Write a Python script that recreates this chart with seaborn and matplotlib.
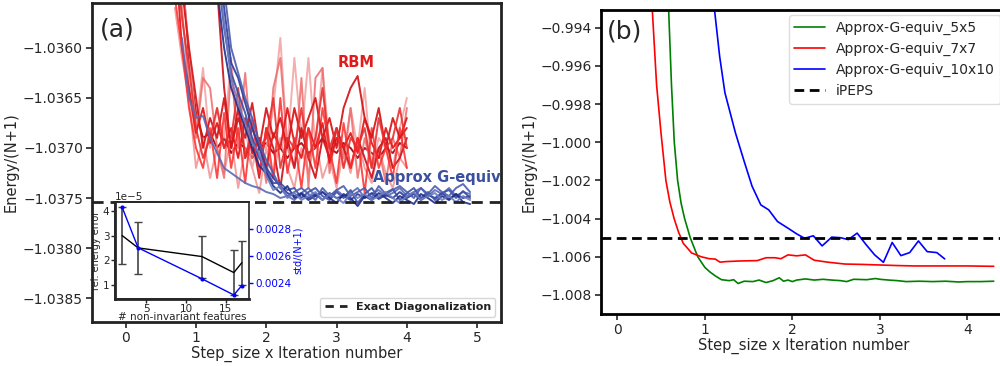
import numpy as np
import pandas as pd
import matplotlib
matplotlib.use("Agg")
import matplotlib.pyplot as plt
import seaborn as sns
from matplotlib.lines import Line2D

# ---------------- data: panel (a) ----------------
step_rbm = np.round(np.arange(0.7, 4.001, 0.1), 2)          # 34 points
step_geq = np.round(np.arange(1.3, 4.901, 0.1), 2)          # 37 points
step_geq_early = np.round(np.arange(0.8, 4.901, 0.1), 2)    # 42 points

rbm_1 = [-1.03500, -1.03600, -1.03640,
         -1.03685, -1.03660, -1.03695, -1.03675, -1.03700, -1.03680, -1.03710, -1.03670, -1.03705, -1.03690,
         -1.03720, -1.03685, -1.03700, -1.03660, -1.03695, -1.03710, -1.03680, -1.03700, -1.03675, -1.03715,
         -1.03690, -1.03700, -1.03685, -1.03705, -1.03670, -1.03695, -1.03710, -1.03680, -1.03700, -1.03690,
         -1.03670]
rbm_2 = [-1.03480, -1.03560, -1.03640,
         -1.03690, -1.03630, -1.03640, -1.03700, -1.03730, -1.03620, -1.03700, -1.03625, -1.03710, -1.03690,
         -1.03735, -1.03640, -1.03610, -1.03700, -1.03720, -1.03630, -1.03740, -1.03630, -1.03620, -1.03725,
         -1.03680, -1.03710, -1.03660, -1.03730, -1.03690, -1.03720, -1.03700, -1.03735, -1.03690, -1.03710,
         -1.03660]
rbm_3 = [-1.03400, -1.03520, -1.03610,
         -1.03665, -1.03690, -1.03685, -1.03700, -1.03690, -1.03705, -1.03695, -1.03700, -1.03710, -1.03700,
         -1.03695, -1.03705, -1.03700, -1.03710, -1.03700, -1.03695, -1.03705, -1.03700, -1.03690, -1.03700,
         -1.03705, -1.03695, -1.03700, -1.03710, -1.03700, -1.03705, -1.03710, -1.03700, -1.03705, -1.03695,
         -1.03700]
rbm_4 = [-1.03550, -1.03600, -1.03660,
         -1.03700, -1.03720, -1.03680, -1.03730, -1.03665, -1.03720, -1.03680, -1.03735, -1.03670, -1.03725,
         -1.03680, -1.03730, -1.03650, -1.03725, -1.03690, -1.03740, -1.03680, -1.03720, -1.03660, -1.03700,
         -1.03735, -1.03675, -1.03720, -1.03690, -1.03745, -1.03680, -1.03720, -1.03700, -1.03730, -1.03680,
         -1.03720]
rbm_5 = [-1.03450, -1.03540, -1.03600,
         -1.03650, -1.03700, -1.03670, -1.03690, -1.03650, -1.03700, -1.03670, -1.03690, -1.03655, -1.03700,
         -1.03660, -1.03690, -1.03670, -1.03700, -1.03660, -1.03690, -1.03670, -1.03650, -1.03690, -1.03670,
         -1.03700, -1.03660, -1.03640, -1.03628, -1.03670, -1.03690, -1.03660, -1.03700, -1.03670, -1.03690,
         -1.03680]
rbm_6 = [-1.03560, -1.03610, -1.03650,
         -1.03720, -1.03690, -1.03730, -1.03700, -1.03725, -1.03690, -1.03740, -1.03700, -1.03720, -1.03745,
         -1.03700, -1.03730, -1.03690, -1.03720, -1.03740, -1.03700, -1.03725, -1.03690, -1.03730, -1.03710,
         -1.03740, -1.03700, -1.03725, -1.03690, -1.03720, -1.03735, -1.03700, -1.03725, -1.03740, -1.03710,
         -1.03720]
rbm_7 = [-1.03500, -1.03570, -1.03620,
         -1.03680, -1.03710, -1.03690, -1.03660, -1.03700, -1.03690, -1.03640, -1.03710, -1.03680, -1.03700,
         -1.03690, -1.03650, -1.03720, -1.03690, -1.03700, -1.03660, -1.03710, -1.03690, -1.03640, -1.03700,
         -1.03680, -1.03720, -1.03690, -1.03700, -1.03680, -1.03720, -1.03670, -1.03700, -1.03690, -1.03660,
         -1.03700]
rbm_8 = [-1.03450, -1.03530, -1.03600,
         -1.03680, -1.03620, -1.03700, -1.03660, -1.03690, -1.03610, -1.03700, -1.03680, -1.03720, -1.03690,
         -1.03700, -1.03660, -1.03590, -1.03700, -1.03610, -1.03690, -1.03610, -1.03700, -1.03620, -1.03700,
         -1.03690, -1.03720, -1.03660, -1.03700, -1.03640, -1.03720, -1.03690, -1.03700, -1.03720, -1.03680,
         -1.03650]
rbm_9 = [-1.03400, -1.03450, -1.03500,
         -1.03500, -1.03510, -1.03520, -1.03540, -1.03640, -1.03700, -1.03660, -1.03710, -1.03690, -1.03730,
         -1.03680, -1.03700, -1.03740, -1.03690, -1.03720, -1.03680, -1.03710, -1.03730, -1.03690, -1.03710,
         -1.03680, -1.03700, -1.03720, -1.03690, -1.03710, -1.03730, -1.03700, -1.03690, -1.03720, -1.03710,
         -1.03690]

geq_1 = [-1.03500, -1.03560, -1.03615, -1.03630, -1.03655, -1.03680, -1.03700,
         -1.03720, -1.03730, -1.03738, -1.03745, -1.03748, -1.03745, -1.03750, -1.03746, -1.03752, -1.03745,
         -1.03750, -1.03748, -1.03752, -1.03746, -1.03750, -1.03745, -1.03751, -1.03747, -1.03750, -1.03744,
         -1.03750, -1.03746, -1.03752, -1.03747, -1.03750, -1.03745, -1.03751, -1.03746, -1.03750, -1.03748]
geq_2 = [-1.03520, -1.03580, -1.03625, -1.03645, -1.03665, -1.03690, -1.03710,
         -1.03722, -1.03735, -1.03735, -1.03742, -1.03740, -1.03750, -1.03744, -1.03740, -1.03748, -1.03752,
         -1.03744, -1.03750, -1.03742, -1.03755, -1.03746, -1.03740, -1.03750, -1.03745, -1.03741, -1.03752,
         -1.03745, -1.03740, -1.03750, -1.03744, -1.03752, -1.03745, -1.03742, -1.03750, -1.03743, -1.03750]
geq_3 = [-1.03540, -1.03600, -1.03640, -1.03660, -1.03680, -1.03700, -1.03718,
         -1.03725, -1.03738, -1.03745, -1.03738, -1.03750, -1.03746, -1.03752, -1.03748, -1.03744, -1.03750,
         -1.03755, -1.03746, -1.03750, -1.03758, -1.03748, -1.03752, -1.03745, -1.03750, -1.03755, -1.03748,
         -1.03752, -1.03756, -1.03746, -1.03750, -1.03755, -1.03748, -1.03752, -1.03746, -1.03754, -1.03756]
geq_5 = [-1.03480, -1.03540, -1.03600, -1.03625, -1.03650, -1.03670, -1.03695,
         -1.03712, -1.03725, -1.03740, -1.03748, -1.03744, -1.03740, -1.03746, -1.03752, -1.03740, -1.03748,
         -1.03742, -1.03738, -1.03748, -1.03744, -1.03740, -1.03750, -1.03738, -1.03746, -1.03742, -1.03738,
         -1.03744, -1.03750, -1.03740, -1.03746, -1.03738, -1.03744, -1.03748, -1.03740, -1.03736, -1.03744]
geq_6 = [-1.03510, -1.03575, -1.03630, -1.03655, -1.03675, -1.03695, -1.03705,
         -1.03728, -1.03742, -1.03738, -1.03750, -1.03745, -1.03752, -1.03748, -1.03744, -1.03752, -1.03746,
         -1.03750, -1.03755, -1.03745, -1.03750, -1.03746, -1.03752, -1.03748, -1.03744, -1.03750, -1.03755,
         -1.03748, -1.03744, -1.03752, -1.03748, -1.03745, -1.03752, -1.03748, -1.03754, -1.03748, -1.03752]
geq_early = [-1.03590, -1.03650,
             -1.03670, -1.03668, -1.03690, -1.03705, -1.03720, -1.03725, -1.03730, -1.03735, -1.03738, -1.03740,
             -1.03744, -1.03746, -1.03750, -1.03748, -1.03752, -1.03745, -1.03740, -1.03748, -1.03744, -1.03750,
             -1.03742, -1.03748, -1.03745, -1.03740, -1.03750, -1.03746, -1.03742, -1.03748, -1.03745, -1.03740,
             -1.03748, -1.03744, -1.03740, -1.03748, -1.03742, -1.03746, -1.03740, -1.03748, -1.03744, -1.03746]

exact_diag = -1.03754

# inset
n_features = [2, 4, 12, 16, 17]
rel_err = [3.0, 2.5, 2.15, 1.5, 1.9]
rel_err_bar = [1.15, 1.05, 0.85, 0.9, 0.9]
std_vals = [0.00296, 0.00266, 0.00243, 0.00231, 0.00238]

# ---------------- data: panel (b) ----------------
x_5x5 = [0.587, 0.62, 0.652, 0.69, 0.73, 0.77, 0.834, 0.92, 1.0, 1.06, 1.12, 1.19, 1.28, 1.33, 1.38,
         1.45, 1.55, 1.62, 1.7, 1.78, 1.85, 1.9, 1.95, 2.0, 2.05, 2.15, 2.25, 2.35, 2.45, 2.55, 2.62, 2.7,
         2.85, 2.95, 3.0, 3.1, 3.2, 3.3, 3.45, 3.6, 3.75, 3.9, 4.0, 4.15, 4.3]
e_5x5 = [-0.9930, -0.9970, -1.0000, -1.0020, -1.0032, -1.0040, -1.0050, -1.0060, -1.00655, -1.0068, -1.0070,
         -1.0072, -1.00725, -1.0072, -1.0074, -1.00728, -1.00730, -1.00722, -1.00735, -1.00725, -1.0071,
         -1.00728, -1.00722, -1.00730, -1.00722, -1.00716, -1.00722, -1.00718, -1.00722, -1.00725, -1.00730,
         -1.00718, -1.00720, -1.00714, -1.00718, -1.00722, -1.00725, -1.00730, -1.00728, -1.00730, -1.00728,
         -1.00732, -1.00730, -1.00730, -1.00728]
x_7x7 = [0.40, 0.45, 0.50, 0.556, 0.60, 0.65, 0.70, 0.755, 0.85, 0.96, 1.05, 1.12, 1.174, 1.25, 1.4, 1.6,
         1.7, 1.8, 1.87, 1.95, 2.05, 2.15, 2.25, 2.4, 2.6, 2.8, 3.0, 3.2, 3.4, 3.6, 3.8, 4.0, 4.3]
e_7x7 = [-0.9930, -0.9970, -0.9995, -1.0020, -1.0031, -1.0040, -1.0047, -1.0053, -1.0058, -1.0060, -1.0061,
         -1.00612, -1.00628, -1.00625, -1.00622, -1.00620, -1.00605, -1.00605, -1.0061, -1.0059, -1.00595,
         -1.00590, -1.00618, -1.00628, -1.00638, -1.00640, -1.00643, -1.00646, -1.00648, -1.00648, -1.00648,
         -1.00648, -1.00650]
x_10x10 = [1.11, 1.17, 1.23, 1.35, 1.45, 1.54, 1.64, 1.73, 1.83, 1.95, 2.05, 2.14, 2.24, 2.34, 2.45, 2.55,
           2.64, 2.74, 2.84, 2.94, 3.04, 3.14, 3.24, 3.34, 3.44, 3.54, 3.65, 3.74]
e_10x10 = [-0.9930, -0.9955, -0.9974, -0.9995, -1.0010, -1.0023, -1.00328, -1.00354, -1.00415, -1.0045,
           -1.0048, -1.00503, -1.0049, -1.00543, -1.00497, -1.00500, -1.0051, -1.00476, -1.00535, -1.0059,
           -1.00629, -1.00525, -1.00594, -1.00578, -1.00517, -1.00573, -1.00578, -1.00611]
ipeps = -1.00501

# ---------------- styling ----------------
sns.set_theme(style="ticks")
plt.rcParams['font.family'] = ['DejaVu Sans']
plt.rcParams['axes.linewidth'] = 2.0
plt.rcParams['xtick.major.width'] = 1.2
plt.rcParams['ytick.major.width'] = 1.2

fig = plt.figure(figsize=(10, 3.66), dpi=100)
ax1 = fig.add_axes([0.092, 0.120, 0.409, 0.872])
ax2 = fig.add_axes([0.601, 0.142, 0.405, 0.831])

# panel (a) traces
rbm_runs = [(rbm_3, '#b5121b', 1.0), (rbm_6, '#f08a8a', 0.8), (rbm_8, '#f4a0a0', 0.85),
            (rbm_2, '#ee6b6b', 0.85), (rbm_9, '#cc1a20', 0.95),
            (rbm_1, '#e41a1c', 0.95), (rbm_4, '#ff2a2a', 0.85), (rbm_5, '#d7191c', 0.95),
            (rbm_7, '#e83030', 0.9)]
for vals, col, a in rbm_runs:
    sns.lineplot(x=step_rbm, y=vals, ax=ax1, color=col, alpha=a, lw=1.4)

sns.lineplot(x=step_geq_early, y=geq_early, ax=ax1, color='#5a6ab4', alpha=0.9, lw=1.4)
geq_runs = [(geq_1, '#2b3a9a'), (geq_2, '#3b4ea5'), (geq_3, '#1f2d8a'), (geq_5, '#4a5cb0'), (geq_6, '#6b7bc0')]
for vals, col in geq_runs:
    sns.lineplot(x=step_geq, y=vals, ax=ax1, color=col, alpha=0.9, lw=1.4)

ax1.axhline(exact_diag, color='#222222', ls='--', lw=2, dashes=(4, 2.5))
ax1.set_xlim(-0.48, 5.34)
ax1.set_ylim(-1.03874, -1.03555)
ax1.set_yticks([-1.0360, -1.0365, -1.0370, -1.0375, -1.0380, -1.0385])
ax1.set_yticklabels(['\u22121.0360', '\u22121.0365', '\u22121.0370', '\u22121.0375', '\u22121.0380', '\u22121.0385'])
ax1.set_xticks([0, 1, 2, 3, 4, 5])
ax1.tick_params(labelsize=10, length=4, color='#222222', pad=2.5)
ax1.set_xlabel('Step_size x Iteration number', fontsize=10.5, labelpad=0.5)
ax1.set_ylabel('Energy/(N+1)', fontsize=10.5, labelpad=3)
ax1.text(0.02, 0.955, '(a)', transform=ax1.transAxes, fontsize=18, va='top', ha='left')
ax1.text(3.02, -1.03615, 'RBM', color='#e31a1c', fontsize=10.5, fontweight='bold', va='center')
ax1.text(3.52, -1.03729, 'Approx G-equiv', color='#3a50a0', fontsize=10.5, fontweight='bold', va='center',
         clip_on=False)
leg1 = ax1.legend(handles=[Line2D([], [], color='#222222', ls='--', lw=2, dashes=(3, 2.2))],
                  labels=['Exact Diagonalization'], loc='lower right', prop={'weight': 'bold', 'size': 8},
                  handlelength=2.0, borderaxespad=0.5, frameon=True)
for t in leg1.get_texts():
    t.set_color('#222222')
for s in ax1.spines.values():
    s.set_color('#222222')

# inset
axi = fig.add_axes([0.115, 1 - 299 / 366, 0.134, 97 / 366])
axi.errorbar(n_features, rel_err, yerr=rel_err_bar, color='black', lw=1, ecolor='#444444',
             elinewidth=1.2, capsize=3, capthick=1)
axi.set_xlim(1.1, 17.9)
axi.set_ylim(0.43, 4.36)
axi.set_xticks([5, 10, 15])
axi.set_yticks([1, 2, 3, 4])
axi.tick_params(labelsize=7.5, length=3, width=1, pad=1.0)
axi.tick_params(axis='x', pad=0.5)
axi.set_xlabel('# non-invariant features', fontsize=7.5, labelpad=-1)
axi.set_ylabel('rel. energy error', fontsize=7, labelpad=1)
axi.text(0.0, 1.0, '1e\u22125', transform=axi.transAxes, fontsize=7.5, va='bottom', ha='left')
for s in axi.spines.values():
    s.set_linewidth(1.2)
axr = axi.twinx()
sns.lineplot(x=n_features, y=std_vals, ax=axr, color='blue', lw=1, marker='o', markersize=3,
             markeredgewidth=0)
axr.set_ylim(0.00228, 0.00300)
axr.set_yticks([0.0024, 0.0026, 0.0028])
axr.set_yticklabels(['0.0024', '0.0026', '0.0028'])
axr.tick_params(axis='y', labelsize=7.5, colors='blue', length=3, width=1, pad=1.5)
axr.set_ylabel('std/(N+1)', fontsize=7, color='blue', labelpad=1)
axr.spines['right'].set_visible(False)
axr.spines['top'].set_linewidth(1.2)

# panel (b)
sns.lineplot(x=x_5x5, y=e_5x5, ax=ax2, color='green', lw=1.2, label='Approx-G-equiv_5x5', sort=False)
sns.lineplot(x=x_7x7, y=e_7x7, ax=ax2, color='red', lw=1.2, label='Approx-G-equiv_7x7', sort=False)
sns.lineplot(x=x_10x10, y=e_10x10, ax=ax2, color='blue', lw=1.2, label='Approx-G-equiv_10x10', sort=False)
ax2.axhline(ipeps, color='black', ls='--', lw=2, dashes=(3.5, 2), label='iPEPS')
ax2.set_xlim(-0.185, 4.44)
ax2.set_ylim(-1.0090, -0.99306)
ax2.set_xticks([0, 1, 2, 3, 4])
ax2.set_yticks([-0.994, -0.996, -0.998, -1.000, -1.002, -1.004, -1.006, -1.008])
ax2.set_yticklabels(['\u22120.994', '\u22120.996', '\u22120.998', '\u22121.000', '\u22121.002',
                     '\u22121.004', '\u22121.006', '\u22121.008'])
ax2.tick_params(labelsize=10, length=4, pad=2.5)
ax2.set_xlabel('Step_size x Iteration number', fontsize=10.5, labelpad=0.5)
ax2.set_ylabel('Energy/(N+1)', fontsize=10.5, labelpad=3)
ax2.text(0.015, 0.967, '(b)', transform=ax2.transAxes, fontsize=18, va='top', ha='left')
ax2.legend(loc='upper right', fontsize=10, handlelength=2.2, borderaxespad=0.4, framealpha=1,
           edgecolor='#dddddd')
for s in ax2.spines.values():
    s.set_color('black')

fig.savefig('out.png', dpi=100)
